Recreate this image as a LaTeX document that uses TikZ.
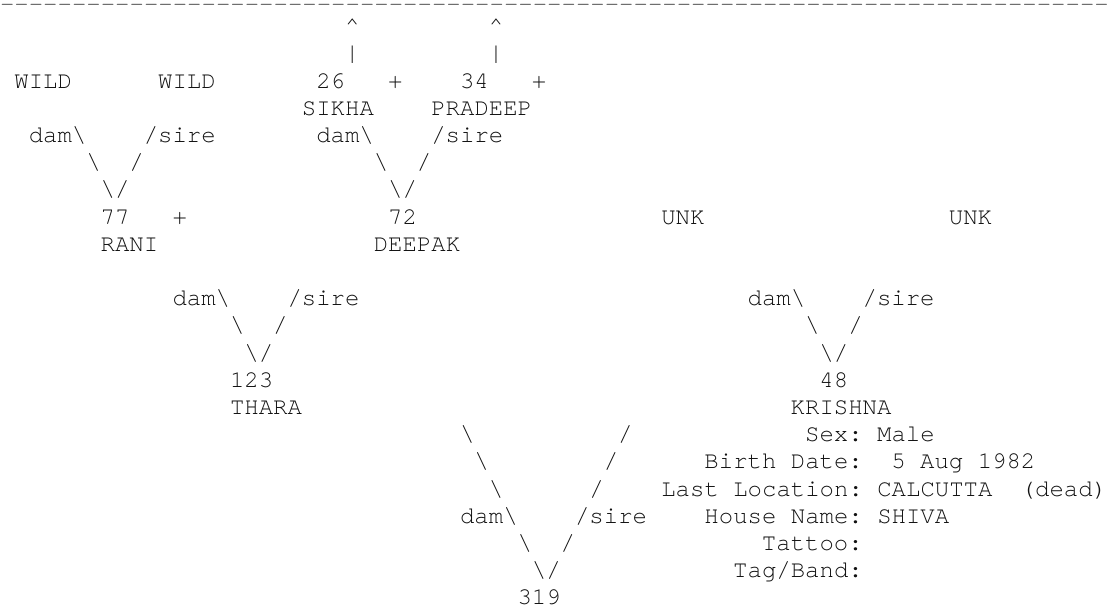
\documentclass[tikz,border=0pt]{standalone}
\usepackage{fontspec}
\setmonofont{TeX Gyre Cursor}
\definecolor{ink}{HTML}{111111}
\newcommand\bsl{\textbackslash}
\newcommand\cellat[4]{\node[asc] (#1) at ({#2*14.377},{6.4+27.2*#3}) {#4};}
\begin{document}
\begin{tikzpicture}[x=0.75pt,y=-0.75pt,
  asc/.style={anchor=base west,inner sep=0pt,outer sep=0pt,text=ink,
    font=\ttfamily\fontsize{18pt}{18pt}\selectfont\frenchspacing}]
\useasboundingbox (0,0) rectangle (1107,608);
% top rule
\node[asc,text=black!70] (rule) at (0,11) {\foreach \i in {1,...,77}{-\kern0pt}};
% row 1-2
\cellat{up26}{24}{1}{\textasciicircum}
\cellat{up34}{34}{1}{\textasciicircum}
\cellat{bar26}{24}{2}{\textbar}
\cellat{bar34}{34}{2}{\textbar}
% row 3
\cellat{wild1}{1}{3}{WILD}
\cellat{wild2}{11}{3}{WILD}
\cellat{n26}{22}{3}{26}
\cellat{p26}{27}{3}{+}
\cellat{n34}{32}{3}{34}
\cellat{p34}{37}{3}{+}
% row 4
\cellat{sikha}{21}{4}{SIKHA}
\cellat{pradeep}{30}{4}{PRADEEP}
% row 5
\cellat{dam77}{2}{5}{dam\bsl}
\cellat{sire77}{10}{5}{/sire}
\cellat{dam72}{22}{5}{dam\bsl}
\cellat{sire72}{30}{5}{/sire}
% row 6
\cellat{l77a}{6}{6}{\bsl}
\cellat{r77a}{9}{6}{/}
\cellat{l72a}{26}{6}{\bsl}
\cellat{r72a}{29}{6}{/}
% row 7
\cellat{v77}{7}{7}{\bsl/}
\cellat{v72}{27}{7}{\bsl/}
% row 8
\cellat{n77}{7}{8}{77}
\cellat{p77}{12}{8}{+}
\cellat{n72}{27}{8}{72}
\cellat{unk1}{46}{8}{UNK}
\cellat{unk2}{66}{8}{UNK}
% row 9
\cellat{rani}{7}{9}{RANI}
\cellat{deepak}{26}{9}{DEEPAK}
% row 11
\cellat{dam123}{12}{11}{dam\bsl}
\cellat{sire123}{20}{11}{/sire}
\cellat{dam48}{52}{11}{dam\bsl}
\cellat{sire48}{60}{11}{/sire}
% row 12
\cellat{l123}{16}{12}{\bsl}
\cellat{r123}{19}{12}{/}
\cellat{l48}{56}{12}{\bsl}
\cellat{r48}{59}{12}{/}
% row 13
\cellat{v123}{17}{13}{\bsl/}
\cellat{v48}{57}{13}{\bsl/}
% row 14-15
\cellat{n123}{16}{14}{123}
\cellat{n48}{57}{14}{48}
\cellat{thara}{16}{15}{THARA}
\cellat{krishna}{55}{15}{KRISHNA}
% rows 16-22
\cellat{l319a}{32}{16}{\bsl}
\cellat{r319a}{43}{16}{/}
\cellat{sex}{56}{16}{Sex: Male}
\cellat{l319b}{33}{17}{\bsl}
\cellat{r319b}{42}{17}{/}
\cellat{birthlbl}{49}{17}{Birth Date:}
\cellat{birth}{62}{17}{5 Aug 1982}
\cellat{l319c}{34}{18}{\bsl}
\cellat{r319c}{41}{18}{/}
\cellat{loc}{46}{18}{Last Location: CALCUTTA}
\cellat{dead}{71}{18}{(dead)}
\cellat{dam319}{32}{19}{dam\bsl}
\cellat{sire319}{40}{19}{/sire}
\cellat{house}{49}{19}{House Name: SHIVA}
\cellat{l319d}{36}{20}{\bsl}
\cellat{r319d}{39}{20}{/}
\cellat{tattoo}{53}{20}{Tattoo:}
\cellat{v319}{37}{21}{\bsl/}
\cellat{tag}{51}{21}{Tag/Band:}
\cellat{n319}{36}{22}{319}
\end{tikzpicture}
\end{document}
